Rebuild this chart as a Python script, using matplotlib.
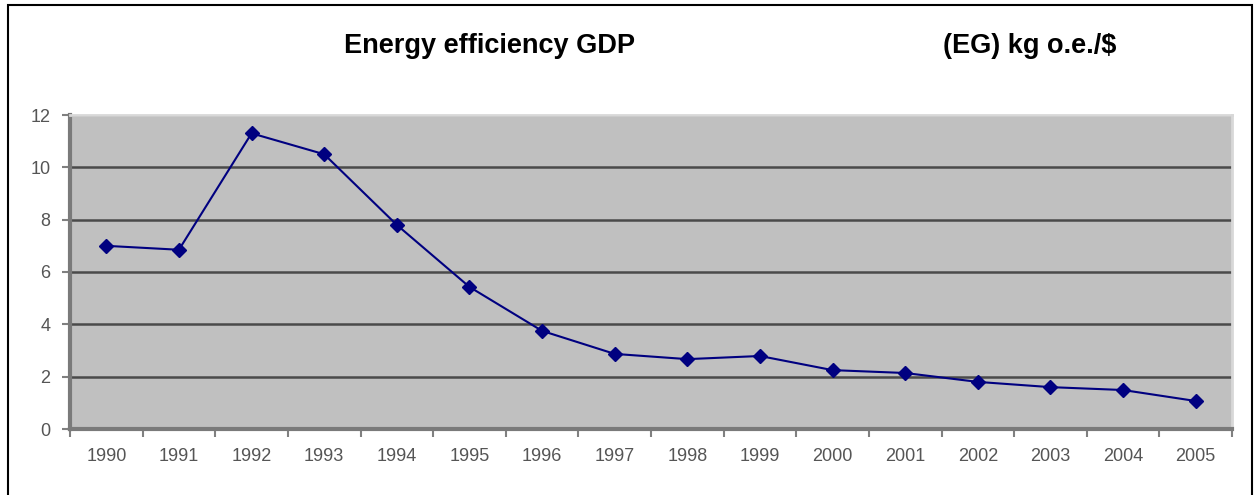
import matplotlib.pyplot as plt
from matplotlib.patches import Rectangle

# Energy efficiency of GDP, kg o.e. per $
years = ['1990', '1991', '1992', '1993', '1994', '1995', '1996', '1997',
         '1998', '1999', '2000', '2001', '2002', '2003', '2004', '2005']
values = [7.0, 6.85, 11.3, 10.5, 7.8, 5.43, 3.75, 2.87,
          2.67, 2.79, 2.25, 2.14, 1.8, 1.6, 1.49, 1.07]

plt.rcParams['font.family'] = ['Liberation Sans', 'DejaVu Sans']

fig = plt.figure(figsize=(12.57, 4.95), dpi=100)
ax = fig.add_axes([70 / 1257, 66 / 495, 1162 / 1257, 314 / 495])

# outer chart frame
fig.patches.append(Rectangle((8 / 1257, -0.02), 1244 / 1257, 1.0 - 5 / 495 + 0.02,
                             transform=fig.transFigure, fill=False,
                             edgecolor='black', linewidth=1.5))

ax.set_facecolor('#c0c0c0')
x = list(range(len(years)))
ax.plot(x, values, color='#000080', linewidth=1.5, marker='D', markersize=7,
        markerfacecolor='#000080', markeredgecolor='#000080', zorder=3)

ax.set_xlim(-0.5, len(years) - 0.5)
ax.set_ylim(0, 12)
ax.set_yticks(range(0, 13, 2))
ax.yaxis.grid(True, color='#4a4a4a', linewidth=1.8)
ax.set_axisbelow(True)

ax.set_xticks(x)
ax.set_xticklabels(years)
ax.set_xticks([i + 0.5 for i in range(-1, len(years))], minor=True)
ax.tick_params(axis='x', which='major', length=0, pad=14, labelsize=13, colors='#555555')
ax.tick_params(axis='x', which='minor', length=6, width=1.5, color='#808080', direction='out')
ax.tick_params(axis='y', length=6, width=1.5, color='#808080', labelsize=13,
               labelcolor='#555555', pad=8)

for side in ['left', 'bottom']:
    ax.spines[side].set_color('#7a7a7a')
    ax.spines[side].set_linewidth(3)
for side in ['top', 'right']:
    ax.spines[side].set_color('#d8d8d8')
    ax.spines[side].set_linewidth(2)

fig.text(490 / 1257, 1 - 46 / 495, 'Energy efficiency GDP', ha='center', va='center',
         fontsize=19.5, fontweight='bold')
fig.text(1030 / 1257, 1 - 46 / 495, '(EG) kg o.e./$', ha='center', va='center',
         fontsize=19.5, fontweight='bold')

fig.savefig('out.png', dpi=100)
